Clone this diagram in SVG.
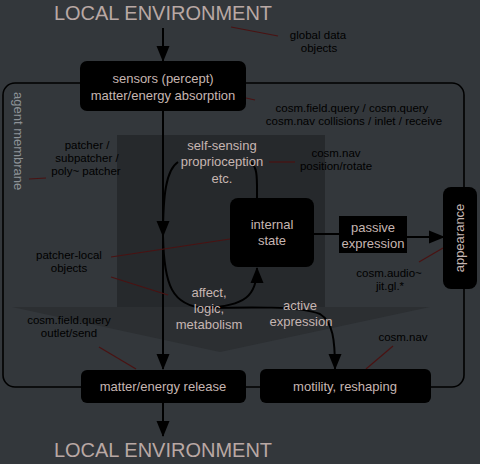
<svg xmlns="http://www.w3.org/2000/svg" width="480" height="464" viewBox="0 0 480 464">
<defs>
<style>
.box{fill:#000;}
.bt{font-family:"Liberation Sans",Arial,sans-serif;font-size:13px;fill:#c6b6b2;text-anchor:middle;}
.env{font-family:"Liberation Sans",Arial,sans-serif;font-size:20px;fill:#b9a8a4;text-anchor:middle;}
.note{font-family:"Liberation Sans",Arial,sans-serif;font-size:11.5px;fill:#000;text-anchor:middle;}
.lead{stroke:#4a1212;stroke-width:1.2;fill:none;}
.con{stroke:#000;stroke-width:2;fill:none;}
</style>
<marker id="ah" markerUnits="userSpaceOnUse" markerWidth="16" markerHeight="14" refX="15" refY="6.5" orient="auto" viewBox="0 0 16 13">
<path d="M0,0 L16,6.5 L0,13 Z" fill="#000"/>
</marker>
</defs>
<rect width="480" height="464" fill="#33373b"/>
<g id="big-arrow">
<rect x="117" y="135" width="208" height="172" fill="#26292c"/>
<polygon points="12,307 430,307 220,352" fill="#2c2f32"/>
</g>
<g id="membrane">
<rect x="3" y="83" width="461" height="304" rx="12" ry="12" fill="none" stroke="#000" stroke-width="1.6"/>
<text transform="translate(14,92) rotate(90)" style="font-family:'Liberation Sans',Arial,sans-serif;font-size:13px;fill:#8d9297;">agent membrane</text>
</g>
<g id="connectors">
<line class="con" x1="163" y1="28" x2="163" y2="61" marker-end="url(#ah)"/>
<line class="con" x1="163" y1="111" x2="163" y2="369" marker-end="url(#ah)"/>
<path class="con" d="M257,198 C257,180 258,166 250,162 M178,162 C166,170 163,195 163,236" marker-end="url(#ah)"/>
<path class="con" d="M163,236 C164,285 172,306 205,308 C245,306 257,296 257,268" marker-end="url(#ah)"/>
<path class="con" d="M205,308 C250,307 300,306 320,314 C333,322 335,340 335,369" marker-end="url(#ah)"/>
<line class="con" x1="314" y1="234" x2="339" y2="234"/>
<line class="con" x1="407" y1="237" x2="444" y2="237" marker-end="url(#ah)"/>
<line class="con" x1="163" y1="403" x2="163" y2="436" marker-end="url(#ah)"/>
<line class="lead" x1="231" y1="27" x2="278" y2="36"/>
<line class="lead" x1="246" y1="98" x2="255" y2="100"/>
<line class="lead" x1="269" y1="162" x2="295" y2="162"/>
<line class="lead" x1="29" y1="179" x2="46" y2="178"/>
<line class="lead" x1="111" y1="257" x2="230" y2="239"/>
<line class="lead" x1="111" y1="277" x2="168" y2="295"/>
<line class="lead" x1="419" y1="262" x2="443" y2="248"/>
<line class="lead" x1="99" y1="347" x2="136" y2="369"/>
<line class="lead" x1="393" y1="346" x2="366" y2="369"/>
</g>
<g id="env-top"><text class="env" x="163" y="20">LOCAL ENVIRONMENT</text></g>
<g id="env-bottom"><text class="env" x="163" y="457">LOCAL ENVIRONMENT</text></g>
<g id="sensors">
<rect class="box" x="80" y="61" width="166" height="50" rx="7"/>
<text class="bt" x="163" y="83">sensors (percept)</text>
<text class="bt" x="163" y="100">matter/energy absorption</text>
</g>
<g id="internal-state">
<rect class="box" x="230" y="198" width="84" height="69" rx="8"/>
<text class="bt" x="272" y="229">internal</text>
<text class="bt" x="272" y="245">state</text>
</g>
<g id="passive-expression">
<rect class="box" x="339" y="216" width="68" height="37"/>
<text class="bt" x="373" y="232">passive</text>
<text class="bt" x="373" y="248">expression</text>
</g>
<g id="appearance">
<rect class="box" x="443" y="187" width="34" height="102" rx="8"/>
<text class="bt" transform="translate(464,238) rotate(-90)">appearance</text>
</g>
<g id="release">
<rect class="box" x="81" y="370" width="165" height="33" rx="6"/>
<text class="bt" x="163" y="391">matter/energy release</text>
</g>
<g id="motility">
<rect class="box" x="260" y="369" width="171" height="34" rx="6"/>
<text class="bt" x="345" y="391">motility, reshaping</text>
</g>
<g id="self-sensing">
<text class="bt" x="222" y="150">self-sensing</text>
<text class="bt" x="222" y="166">proprioception</text>
<text class="bt" x="222" y="183">etc.</text>
</g>
<g id="affect">
<text class="bt" x="209" y="297">affect,</text>
<text class="bt" x="209" y="313">logic,</text>
<text class="bt" x="209" y="329">metabolism</text>
</g>
<g id="active-expression">
<text class="bt" x="300" y="310">active</text>
<text class="bt" x="301" y="326">expression</text>
</g>
<g id="notes">
<text class="note" x="318" y="39">global data</text>
<text class="note" x="319" y="52">objects</text>
<text class="note" x="352" y="112">cosm.field.query / cosm.query</text>
<text class="note" x="354" y="125">cosm.nav collisions / inlet / receive</text>
<text class="note" x="87" y="149">patcher /</text>
<text class="note" x="87" y="162">subpatcher /</text>
<text class="note" x="86" y="175">poly~ patcher</text>
<text class="note" x="336" y="157">cosm.nav</text>
<text class="note" x="336" y="170">position/rotate</text>
<text class="note" x="69" y="259">patcher-local</text>
<text class="note" x="69" y="272">objects</text>
<text class="note" x="389" y="277">cosm.audio~</text>
<text class="note" x="390" y="290">jit.gl.*</text>
<text class="note" x="69" y="324">cosm.field.query</text>
<text class="note" x="69" y="337">outlet/send</text>
<text class="note" x="403" y="341">cosm.nav</text>
</g>
</svg>
